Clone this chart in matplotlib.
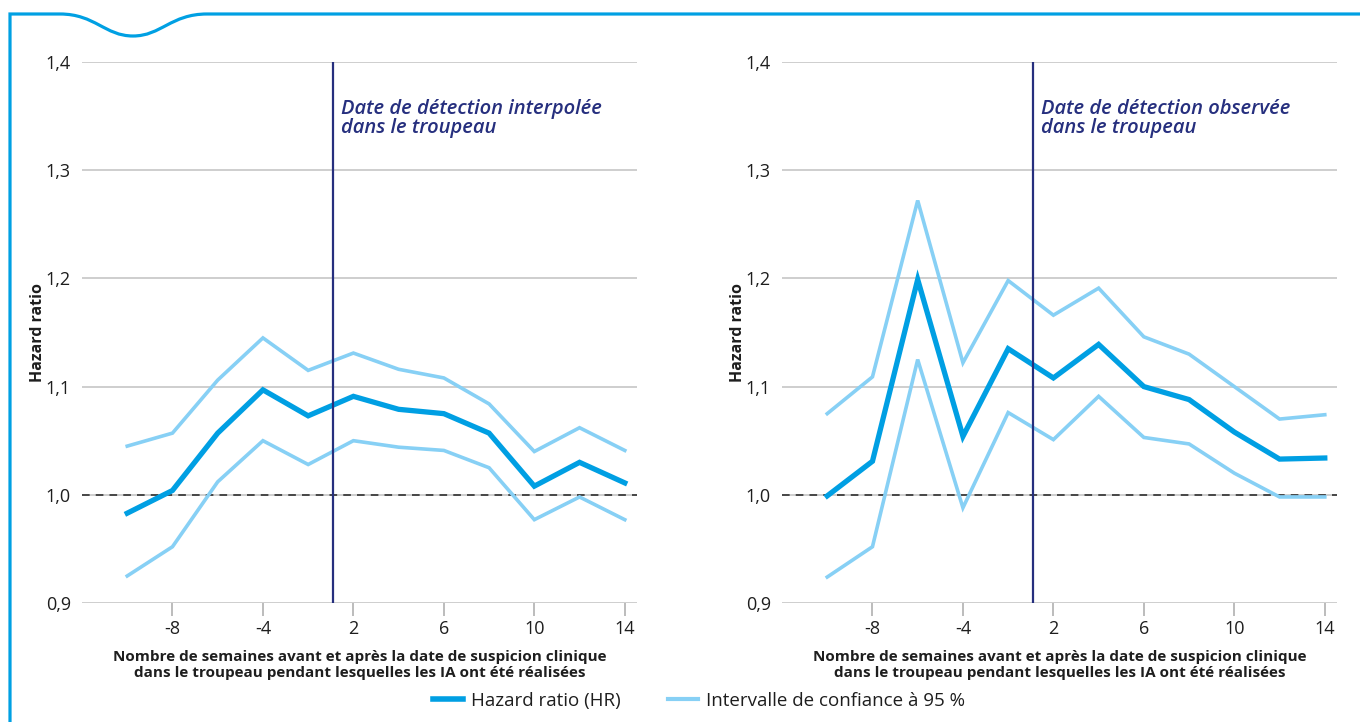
import matplotlib
matplotlib.use("Agg")
import matplotlib.pyplot as plt
from matplotlib.path import Path
from matplotlib.patches import PathPatch
from matplotlib.lines import Line2D

plt.rcParams['font.family'] = ['Open Sans', 'DejaVu Sans']

# weeks before / after clinical suspicion (no week 0)
weeks = [-10, -8, -6, -4, -2, 2, 4, 6, 8, 10, 12, 14]
tick_weeks = [-8, -4, 2, 6, 10, 14]

# interpolated detection date
hr_interp = [0.983, 1.004, 1.057, 1.097, 1.073, 1.091, 1.079, 1.075, 1.057, 1.008, 1.030, 1.011]
ci_hi_interp = [1.045, 1.057, 1.106, 1.145, 1.115, 1.131, 1.116, 1.108, 1.084, 1.040, 1.062, 1.041]
ci_lo_interp = [0.925, 0.952, 1.012, 1.050, 1.028, 1.050, 1.044, 1.041, 1.025, 0.977, 0.998, 0.977]

# observed detection date
hr_obs = [0.999, 1.031, 1.199, 1.054, 1.135, 1.108, 1.139, 1.100, 1.088, 1.058, 1.033, 1.034]
ci_hi_obs = [1.075, 1.109, 1.272, 1.122, 1.198, 1.166, 1.191, 1.146, 1.130, 1.100, 1.070, 1.074]
ci_lo_obs = [0.924, 0.952, 1.125, 0.988, 1.076, 1.051, 1.091, 1.053, 1.047, 1.020, 0.998, 0.998]

yticks = [0.9, 1.0, 1.1, 1.2, 1.3, 1.4]
detect_pos = 4.55  # between -2 and 2 weeks

HR_COL = '#009fe3'
CI_COL = '#87d0f5'
NAVY = '#262f7e'
GRID = '#c6c6c6'
TXT = '#1e1e1e'

W, H = 1360, 722
fig = plt.figure(figsize=(W / 100, H / 100), dpi=100)

# decorative frame with a notch on the top edge
bg = fig.add_axes([0, 0, 1, 1], zorder=-1)
bg.set_xlim(0, W)
bg.set_ylim(H, 0)
bg.axis('off')
verts = [(10, H + 5), (10, 14), (60, 14),
         (95, 14), (105, 36), (133, 36),
         (161, 36), (171, 14), (207, 14),
         (W + 5, 14)]
codes = [Path.MOVETO, Path.LINETO, Path.LINETO,
         Path.CURVE4, Path.CURVE4, Path.CURVE4,
         Path.CURVE4, Path.CURVE4, Path.CURVE4,
         Path.LINETO]
bg.add_patch(PathPatch(Path(verts, codes), fill=False, edgecolor='#00a0e3', lw=2.3,
                       joinstyle='miter'))


def panel(left_px, hr, hi, lo, title):
    ax = fig.add_axes([left_px / W, (H - 603) / H, 555 / W, 541 / H])
    x = list(range(len(weeks)))
    for yv in yticks:
        ax.axhline(yv, color=GRID, lw=1.2, zorder=0)
    ax.axhline(1.0, color='#222222', lw=1.1, ls=(0, (5, 4)), zorder=1)
    ax.plot(x, hi, color=CI_COL, lw=2.6, zorder=2, solid_joinstyle='miter')
    ax.plot(x, lo, color=CI_COL, lw=2.6, zorder=2, solid_joinstyle='miter')
    ax.plot(x, hr, color=HR_COL, lw=3.8, zorder=3, solid_joinstyle='miter')
    ax.axvline(detect_pos, color=NAVY, lw=1.6, zorder=4)
    ax.text(detect_pos + 0.18, 1.366, title, color=NAVY, style='italic',
            fontweight='semibold', fontsize=14.5, va='top', ha='left', linespacing=0.98)
    ax.set_xlim(-1.0, 11.27)
    ax.set_ylim(0.9, 1.4)
    for s in ax.spines.values():
        s.set_visible(False)
    ax.set_yticks(yticks)
    ax.set_yticklabels([f'{v:.1f}'.replace('.', ',') for v in yticks], fontsize=13, color=TXT)
    ax.tick_params(axis='y', length=0, pad=8)
    ax.set_xticks([weeks.index(w) for w in tick_weeks])
    ax.set_xticklabels([str(w) for w in tick_weeks], fontsize=13, color=TXT)
    ax.tick_params(axis='x', length=9, width=1.2, color='#b0b0b0', pad=3)
    ax.set_ylabel('Hazard ratio', fontsize=11.5, fontweight='bold', labelpad=0, color=TXT)
    ax.set_xlabel('Nombre de semaines avant et après la date de suspicion clinique\n'
                  'dans le troupeau pendant lesquelles les IA ont été réalisées',
                  fontsize=11, fontweight='bold', labelpad=9, linespacing=1.15, color=TXT)
    return ax


panel(82, hr_interp, ci_hi_interp, ci_lo_interp, 'Date de détection interpolée\ndans le troupeau')
panel(782, hr_obs, ci_hi_obs, ci_lo_obs, 'Date de détection observée\ndans le troupeau')

handles = [Line2D([], [], color=HR_COL, lw=4),
           Line2D([], [], color=CI_COL, lw=3)]
fig.legend(handles, ['Hazard ratio (HR)', 'Intervalle de confiance à 95 %'],
           loc='center', bbox_to_anchor=(699 / W, 21 / H), ncol=2, frameon=False,
           fontsize=13.5, handlelength=1.6, columnspacing=2.5, handletextpad=0.45,
           labelcolor=TXT)

fig.savefig('out.png', dpi=100)
